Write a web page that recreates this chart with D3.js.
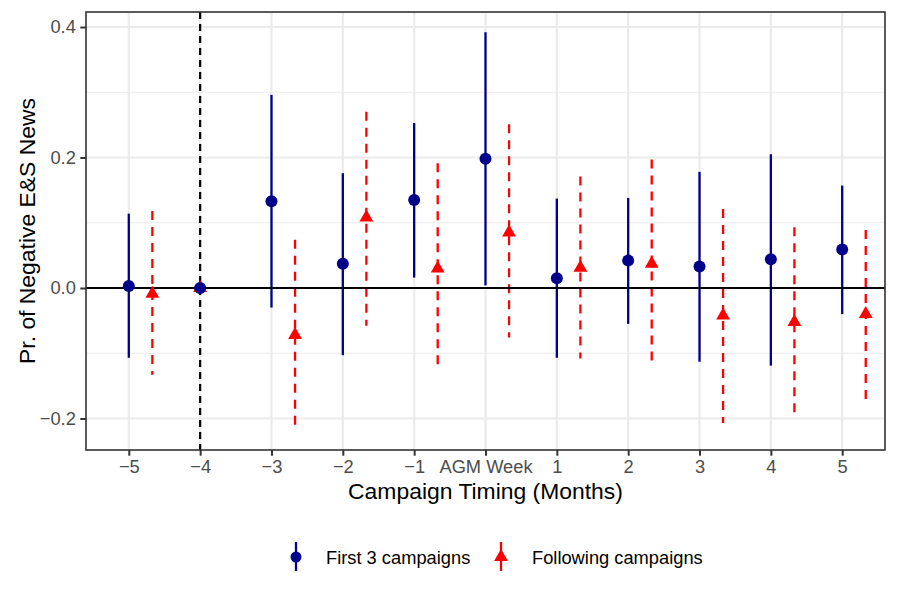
<!DOCTYPE html>
<html>
<head>
<meta charset="utf-8">
<script src="https://cdn.jsdelivr.net/npm/d3@7"></script>
<style>
  body { margin: 0; background: #fff; }
  svg { display: block; font-family: "Liberation Sans", Arial, sans-serif; }
</style>
</head>
<body>
<svg id="chart" width="897" height="598"></svg>
<script>
// ---- data ----
const months = [-5, -4, -3, -2, -1, 0, 1, 2, 3, 4, 5];
const tickLabels = ["\u22125", "\u22124", "\u22123", "\u22122", "\u22121", "AGM Week", "1", "2", "3", "4", "5"];
const redPos = [-4.67, -4, -2.67, -1.67, -0.67, 0.33, 1.33, 2.33, 3.33, 4.33, 5.33];

const blueEst = [0.003, 0, 0.133, 0.037, 0.135, 0.198, 0.015, 0.042, 0.033, 0.044, 0.059];
const blueLo  = [-0.107, 0, -0.030, -0.103, 0.016, 0.004, -0.107, -0.055, -0.113, -0.119, -0.040];
const blueHi  = [0.114, 0, 0.296, 0.176, 0.253, 0.392, 0.137, 0.138, 0.178, 0.205, 0.157];

const redEst = [-0.009, 0, -0.072, 0.108, 0.030, 0.085, 0.031, 0.037, -0.042, -0.052, -0.040];
const redLo  = [-0.133, 0, -0.218, -0.058, -0.127, -0.076, -0.108, -0.122, -0.207, -0.196, -0.172];
const redHi  = [0.118, 0, 0.074, 0.270, 0.191, 0.251, 0.171, 0.197, 0.121, 0.093, 0.089];

const yTicks = [-0.2, 0.0, 0.2, 0.4];
const yMinor = [-0.1, 0.1, 0.3];
const seriesNames = ["First 3 campaigns", "Following campaigns"];
const refMonth = -4;

// ---- layout ----
const svg = d3.select("#chart");
const P = { left: 86, right: 885, top: 12, bottom: 450 };
const x = d3.scaleLinear().domain([-5.6, 5.6]).range([P.left, P.right]);
const y = d3.scaleLinear().domain([-0.2483, 0.4230]).range([P.bottom, P.top]);

const BLUE = "#00008B", RED = "#FF0000";
const grid = svg.append("g");
// minor grid
grid.selectAll(".ymin").data(yMinor).enter().append("line")
  .attr("x1", P.left).attr("x2", P.right)
  .attr("y1", d => y(d)).attr("y2", d => y(d))
  .attr("stroke", "#EBEBEB").attr("stroke-width", 1.1);
// major grid
grid.selectAll(".ymaj").data(yTicks).enter().append("line")
  .attr("x1", P.left).attr("x2", P.right)
  .attr("y1", d => y(d)).attr("y2", d => y(d))
  .attr("stroke", "#EBEBEB").attr("stroke-width", 2.2);
grid.selectAll(".xmaj").data(months).enter().append("line")
  .attr("y1", P.top).attr("y2", P.bottom)
  .attr("x1", d => x(d)).attr("x2", d => x(d))
  .attr("stroke", "#EBEBEB").attr("stroke-width", 2.2);

// error bars
const idx = d3.range(months.length);
svg.append("g").selectAll("line").data(idx).enter().append("line")
  .attr("x1", i => x(months[i])).attr("x2", i => x(months[i]))
  .attr("y1", i => y(blueLo[i])).attr("y2", i => y(blueHi[i]))
  .attr("stroke", BLUE).attr("stroke-width", 2.3);
svg.append("g").selectAll("line").data(idx).enter().append("line")
  .attr("x1", i => x(redPos[i])).attr("x2", i => x(redPos[i]))
  .attr("y1", i => y(redHi[i])).attr("y2", i => y(redLo[i]))
  .attr("stroke", RED).attr("stroke-width", 2.3)
  .attr("stroke-dasharray", "9,7");

// reference lines
svg.append("line")
  .attr("x1", P.left).attr("x2", P.right)
  .attr("y1", y(0)).attr("y2", y(0))
  .attr("stroke", "#000").attr("stroke-width", 2.2);
svg.append("line")
  .attr("x1", x(refMonth)).attr("x2", x(refMonth))
  .attr("y1", P.top).attr("y2", P.bottom)
  .attr("stroke", "#000").attr("stroke-width", 2.2)
  .attr("stroke-dasharray", "7,5");

// points
const tri = d3.symbol(d3.symbolTriangle, 83);
svg.append("g").selectAll("path").data(idx).enter().append("path")
  .attr("d", tri)
  .attr("transform", i => `translate(${x(redPos[i])},${y(redEst[i])})`)
  .attr("fill", RED);
svg.append("g").selectAll("circle").data(idx).enter().append("circle")
  .attr("cx", i => x(months[i])).attr("cy", i => y(blueEst[i]))
  .attr("r", 6).attr("fill", BLUE);

// panel border
svg.append("rect")
  .attr("x", P.left).attr("y", P.top)
  .attr("width", P.right - P.left).attr("height", P.bottom - P.top)
  .attr("fill", "none").attr("stroke", "#333").attr("stroke-width", 1.6);

// axes
const xAxis = d3.axisBottom(x).tickValues(months)
  .tickFormat((d, i) => tickLabels[i]).tickSize(5.7).tickPadding(4.5);
const gx = svg.append("g").attr("transform", `translate(0,${P.bottom})`).call(xAxis);
const yAxis = d3.axisLeft(y).tickValues(yTicks)
  .tickFormat(d => d3.format(".1f")(d).replace("-", "\u2212")).tickSize(5.7).tickPadding(4.5);
const gy = svg.append("g").attr("transform", `translate(${P.left},0)`).call(yAxis);
[gx, gy].forEach(g => {
  g.select(".domain").remove();
  g.selectAll(".tick line").attr("stroke", "#333").attr("stroke-width", 2);
  g.selectAll(".tick text").attr("fill", "#4D4D4D")
    .style("font-size", "18.3px").style("font-family", "'Liberation Sans', Arial, sans-serif");
});

// axis titles
svg.append("text").attr("x", (P.left + P.right) / 2).attr("y", 499)
  .attr("text-anchor", "middle").style("font-size", "22.9px")
  .text("Campaign Timing (Months)");
svg.append("text")
  .attr("transform", `translate(35,${(P.top + P.bottom) / 2}) rotate(-90)`)
  .attr("text-anchor", "middle").style("font-size", "22.9px")
  .text("Pr. of Negative E&S News");

// legend
const leg = svg.append("g");
const lk = [{ x: 296, tx: 326 }, { x: 501, tx: 532 }];
leg.append("line").attr("x1", lk[0].x).attr("x2", lk[0].x).attr("y1", 542).attr("y2", 571)
  .attr("stroke", BLUE).attr("stroke-width", 2.3);
leg.append("circle").attr("cx", lk[0].x).attr("cy", 557).attr("r", 5.5).attr("fill", BLUE);
leg.append("line").attr("x1", lk[1].x).attr("x2", lk[1].x).attr("y1", 542).attr("y2", 571)
  .attr("stroke", RED).attr("stroke-width", 2.3);
leg.append("path").attr("d", tri).attr("transform", `translate(${lk[1].x},557)`).attr("fill", RED);
seriesNames.forEach((s, i) => {
  leg.append("text").attr("x", lk[i].tx).attr("y", 563.5)
    .style("font-size", "18.3px").text(s);
});
</script>
</body>
</html>
